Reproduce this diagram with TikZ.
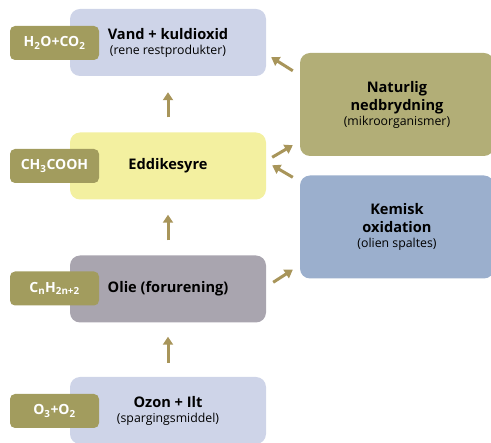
\documentclass[tikz,border=0pt]{standalone}
\usepackage{fontspec}
\setmainfont{Open Sans}
\usetikzlibrary{arrows.meta}

\definecolor{palelilac}{HTML}{CED4E8}
\definecolor{paleyellow}{HTML}{F3F0A0}
\definecolor{greymauve}{HTML}{A9A5AF}
\definecolor{olivetag}{HTML}{A29C5E}
\definecolor{olivebox}{HTML}{B2AE77}
\definecolor{steelblue}{HTML}{9BAFCD}
\definecolor{arrowgold}{HTML}{A8955A}

\def\boxw{196pt}
\def\boxh{67pt}
\newcommand\headfont{\bfseries\fontsize{14.6}{18}\selectfont}
\newcommand\subfont{\fontsize{12.3}{15}\selectfont}

\begin{document}
\begin{tikzpicture}
[x=1pt,y=-1pt,
every node/.style={
  inner sep=0pt, align=center, text=black, font=\fontsize{12.3}{18}\selectfont
},
stage/.style={
  rounded corners=10pt, minimum width=\boxw, minimum height=\boxh
},
formula/.style={
  fill=olivetag, text=white, rounded corners=5pt, minimum width=89pt,
  minimum height=34pt, font=\bfseries\fontsize{14}{16}\selectfont
},
process/.style={
  rounded corners=10pt, minimum width=194pt, minimum height=103pt
},
arr/.style={
  draw=arrowgold, line width=3pt, -{Triangle[width=10pt,length=8pt]}
}
]
\useasboundingbox (0,0) rectangle (491,443);

% Stages
\node[stage, fill=palelilac] (vand) at (168,42.5)
  {{\headfont Vand + kuldioxid}\\[-3pt]{\subfont (rene restprodukter)}};
\node[stage, fill=paleyellow] (eddike) at (168,166)
  {{\headfont Eddikesyre}};
\node[stage, fill=greymauve] (olie) at (168,289)
  {{\headfont Olie (forurening)}};
\node[stage, fill=palelilac] (ozon) at (168,410.5)
  {{\headfont Ozon + Ilt}\\[-3pt]{\subfont (spargingsmiddel)}};

% Formulas
\node[formula] (h2o) at (54.5,43) {H\textsubscript{2}O+CO\textsubscript{2}};
\node[formula] (ch3) at (54.5,166) {CH\textsubscript{3}COOH};
\node[formula] (cnh) at (54.5,288.5) {C\textsubscript{n}H\textsubscript{2n+2}};
\node[formula] (o3) at (54.5,411) {O\textsubscript{3}+O\textsubscript{2}};

% Processes
\node[process, fill=olivebox] (natur) at (397,104.5)
  {{\headfont Naturlig}\\{\headfont nedbrydning}\\[-3pt]{\subfont (mikroorganismer)}};
\node[process, fill=steelblue] (kemisk) at (397,227)
  {{\headfont Kemisk}\\{\headfont oxidation}\\[-3pt]{\subfont (olien spaltes)}};

% Arrows
\draw[arr, shorten <=15pt, shorten >=16pt] (eddike) -- (vand);
\draw[arr, shorten <=15pt, shorten >=15pt] (olie) -- (eddike);
\draw[arr, shorten <=14pt, shorten >=14pt] (ozon) -- (olie);
\draw[arr] ([shift={(-7,18)}]natur.north west) -- ([shift={(5,-19)}]vand.south east);
\draw[arr] ([shift={(6,25)}]eddike.north east) -- ([shift={(-7,-11)}]natur.south west);
\draw[arr] ([shift={(-7,2)}]kemisk.north west) -- ([shift={(6,33)}]eddike.north east);
\draw[arr] ([shift={(7,27)}]olie.north east) -- ([shift={(-7,-9)}]kemisk.south west);

\end{tikzpicture}
\end{document}
